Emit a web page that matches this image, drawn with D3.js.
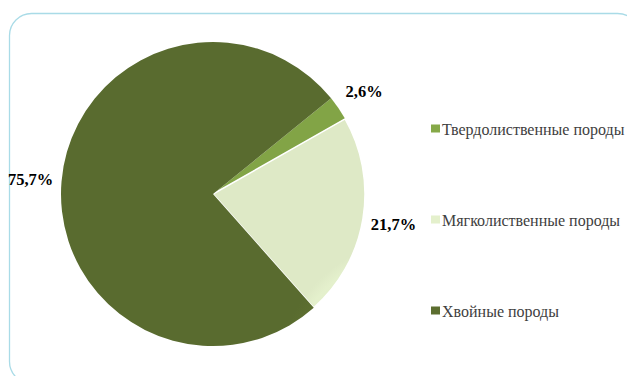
<!DOCTYPE html>
<html>
<head>
<meta charset="utf-8">
<script src="https://cdn.jsdelivr.net/npm/d3@7/dist/d3.min.js"></script>
<style>
  html, body { margin: 0; padding: 0; background: #fff; }
  svg { display: block; }
</style>
</head>
<body>
<svg id="chart" width="627" height="376"></svg>
<script>
// Породный состав лесов, доля площади (%)
const categories = ["Твердолиственные породы", "Мягколиственные породы", "Хвойные породы"];
const shares = [2.6, 21.7, 75.7];
const valueLabels = ["2,6%", "21,7%", "75,7%"];
const colors = ["#86a948", "#e4f0cc", "#5c6e30"];
const innerColors = ["#9cbd5c", "#eff7e0", "#5e7131"];

const serif = '"Times New Roman"';
const cx = 213, cy = 194, R = 152;

const svg = d3.select("#chart");
const defs = svg.append("defs");

// frame
svg.append("rect")
  .attr("x", 9.5).attr("y", 13.5)
  .attr("width", 630).attr("height", 370)
  .attr("rx", 22).attr("ry", 22)
  .attr("fill", "none")
  .attr("stroke", "#a9dbe7")
  .attr("stroke-width", 1.3);

// soft shading for each slice
colors.forEach((c, i) => {
  const g = defs.append("radialGradient")
    .attr("id", "grad" + i)
    .attr("gradientUnits", "userSpaceOnUse")
    .attr("cx", cx).attr("cy", cy).attr("r", R);
  g.append("stop").attr("offset", "0%").attr("stop-color", innerColors[i]);
  g.append("stop").attr("offset", "93%").attr("stop-color", c);
  g.append("stop").attr("offset", "100%").attr("stop-color", d3.color(c).darker(0.08));
});

const startA = 51 * Math.PI / 180;
const pie = d3.pie().sort(null).value(d => d)
  .startAngle(startA).endAngle(startA + 2 * Math.PI);
const arcs = pie(shares);

const arc = d3.arc().innerRadius(0).outerRadius(R);
const labelArc = d3.arc().innerRadius(183).outerRadius(183);

const g = svg.append("g").attr("transform", `translate(${cx},${cy})`);

g.selectAll("path.slice")
  .data(arcs)
  .join("path")
  .attr("class", "slice")
  .attr("d", arc)
  .attr("fill", (d, i) => `url(#grad${i})`)
  .attr("stroke", (d, i) => i === 1 ? "#ffffff" : "none")
  .attr("stroke-width", 1.5)
  .attr("stroke-linejoin", "round");

g.selectAll("text.val")
  .data(arcs)
  .join("text")
  .attr("class", "val")
  .attr("transform", d => `translate(${labelArc.centroid(d)})`)
  .attr("text-anchor", "middle")
  .attr("dy", "0.35em")
  .style("font-family", serif)
  .style("font-weight", "bold")
  .style("font-size", "16.5px")
  .attr("fill", "#000")
  .text((d, i) => valueLabels[i]);

// legend
const legendY = d3.scalePoint().domain(categories).range([129, 311]);
const leg = svg.append("g").selectAll("g")
  .data(categories)
  .join("g")
  .attr("transform", d => `translate(431,${legendY(d)})`);

leg.append("rect")
  .attr("x", 0).attr("y", -4.5)
  .attr("width", 9).attr("height", 8)
  .attr("fill", (d, i) => colors[i]);

leg.append("text")
  .attr("x", 11)
  .attr("dy", "0.35em")
  .style("font-family", serif)
  .style("font-size", "16px")
  .attr("fill", "#404040")
  .text(d => d);
</script>
</body>
</html>
